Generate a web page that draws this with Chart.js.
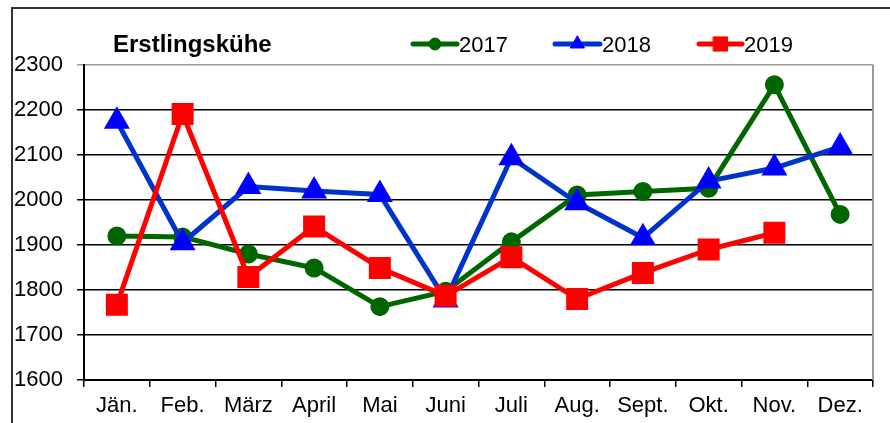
<!DOCTYPE html>
<html>
<head>
<meta charset="utf-8">
<script src="https://cdn.jsdelivr.net/npm/chart.js@4/dist/chart.umd.min.js"></script>
<style>
  html, body { margin: 0; padding: 0; background: #fff; }
  #wrap { width: 890px; height: 423px; }
</style>
</head>
<body>
<div id="wrap"><canvas id="chart" width="890" height="423"></canvas></div>
<script>
const months = ["Jän.", "Feb.", "März", "April", "Mai", "Juni", "Juli", "Aug.", "Sept.", "Okt.", "Nov.", "Dez."];

const values2017 = [1920, 1918, 1880, 1849, 1763, 1797, 1907, 2011, 2019, 2026, 2256, 1968];
const values2018 = [2175, 1905, 2030, 2020, 2012, 1778, 2094, 1994, 1916, 2042, 2071, 2118];
const values2019 = [1767, 2191, 1829, 1941, 1849, 1787, 1873, 1780, 1838, 1890, 1927, null];

const yMin = 1600;
const yMax = 2300;
const yStep = 100;

const title = "Erstlingskühe";

const FONT = "'Liberation Sans', Arial, sans-serif";

// frame, plot border, title and legend
const decor = {
    id: 'decor',
    beforeDraw(chart) {
        const ctx = chart.ctx;
        ctx.save();
        ctx.fillStyle = '#fff';
        ctx.fillRect(0, 0, chart.width, chart.height);
        ctx.strokeStyle = '#333';
        ctx.lineWidth = 2;
        ctx.strokeRect(12, 8, 2000, 2000);
        ctx.restore();
    },
    afterDraw(chart) {
        const ctx = chart.ctx;
        const a = chart.chartArea;
        ctx.save();
        ctx.strokeStyle = '#999';
        ctx.lineWidth = 2;
        ctx.beginPath();
        ctx.moveTo(a.right, a.top);
        ctx.lineTo(a.right, a.bottom);
        ctx.stroke();

        ctx.fillStyle = '#000';
        ctx.textBaseline = 'alphabetic';
        ctx.font = "bold 24px " + FONT;
        ctx.fillText(title, 113, 52);

        const items = [
            { ds: 0, x1: 413, x2: 457, r: 6 },
            { ds: 1, x1: 555, x2: 600, r: 8 },
            { ds: 2, x1: 699, x2: 742, r: 10 }
        ];
        items.forEach(it => {
            const d = chart.data.datasets[it.ds];
            const y = 44;
            ctx.strokeStyle = d.borderColor;
            ctx.lineWidth = 5;
            ctx.lineCap = 'round';
            ctx.beginPath();
            ctx.moveTo(it.x1, y);
            ctx.lineTo(it.x2, y);
            ctx.stroke();
            ctx.fillStyle = d.pointBackgroundColor;
            ctx.strokeStyle = d.pointBorderColor;
            ctx.lineWidth = 1;
            Chart.helpers.drawPoint(ctx, { pointStyle: d.pointStyle, radius: it.r, rotation: 0, borderWidth: 1 }, (it.x1 + it.x2) / 2, y);
            ctx.fillStyle = '#000';
            ctx.font = "22px " + FONT;
            ctx.fillText(d.label, it.x2 + 2, 52);
        });
        ctx.restore();
    }
};

new Chart(document.getElementById('chart'), {
    type: 'line',
    data: {
        labels: months,
        datasets: [
            {
                label: '2017',
                data: values2017,
                borderColor: '#006600',
                backgroundColor: '#006600',
                pointBackgroundColor: '#006600',
                pointBorderColor: '#006600',
                pointStyle: 'circle',
                pointRadius: 7,
                borderWidth: 5,
                order: 3
            },
            {
                label: '2018',
                data: values2018,
                borderColor: '#0033cc',
                backgroundColor: '#0000ff',
                pointBackgroundColor: '#0000ff',
                pointBorderColor: '#0000ff',
                pointStyle: 'triangle',
                pointRadius: 10,
                borderWidth: 5,
                order: 2
            },
            {
                label: '2019',
                data: values2019,
                borderColor: '#ff0000',
                backgroundColor: '#ff0000',
                pointBackgroundColor: '#ff0000',
                pointBorderColor: '#ff0000',
                pointStyle: 'rect',
                pointRadius: 12,
                borderWidth: 5,
                order: 1
            }
        ]
    },
    options: {
        responsive: false,
        animation: false,
        layout: { padding: { top: 65, right: 13, left: 0, bottom: 0 } },
        plugins: {
            legend: { display: false },
            tooltip: { enabled: false }
        },
        elements: {
            line: { tension: 0, borderJoinStyle: 'round', borderCapStyle: 'round' },
            point: { borderWidth: 1 }
        },
        scales: {
            x: {
                offset: true,
                afterFit(s) { s.height = 43; },
                grid: {
                    offset: true,
                    drawOnChartArea: false,
                    drawTicks: true,
                    tickLength: 7,
                    color: '#000',
                    lineWidth: 1.5
                },
                border: { color: '#000', width: 2 },
                ticks: {
                    color: '#000',
                    font: { family: FONT, size: 22 },
                    padding: 6,
                    maxRotation: 0,
                    autoSkip: false
                }
            },
            y: {
                min: yMin,
                max: yMax,
                afterFit(s) { s.width = 84; },
                grid: {
                    color: ctx => (ctx.tick && ctx.tick.value === yMax) ? '#999' : '#000',
                    lineWidth: 1.5,
                    tickLength: 7
                },
                border: { color: '#000', width: 2 },
                ticks: {
                    stepSize: yStep,
                    color: '#000',
                    font: { family: FONT, size: 22 },
                    padding: 14,
                    callback: v => String(v)
                }
            }
        }
    },
    plugins: [decor]
});
</script>
</body>
</html>
